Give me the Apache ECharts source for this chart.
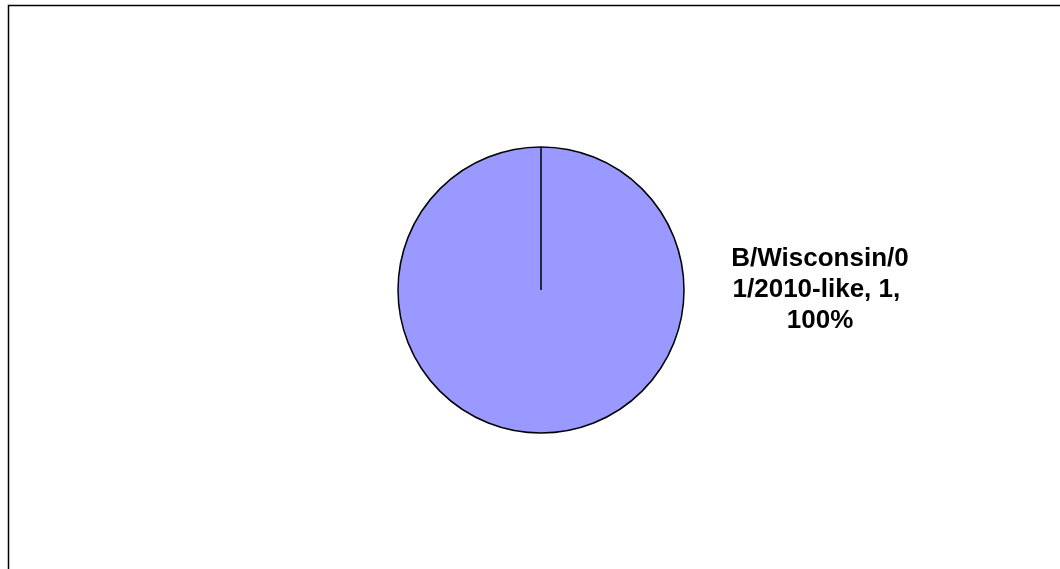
<!DOCTYPE html>
<html>
<head>
<meta charset="utf-8">
<script src="https://cdn.jsdelivr.net/npm/echarts@6/dist/echarts.min.js"></script>
<style>
html,body{margin:0;padding:0;background:#fff;}
#chart{width:1060px;height:569px;}
</style>
</head>
<body>
<div id="chart"></div>
<script>
const categories = ['B/Wisconsin/01/2010-like'];
const values = [1];

const chart = echarts.init(document.getElementById('chart'), null, {renderer: 'canvas'});

const data = categories.map((c, i) => ({ name: c, value: values[i] }));

chart.setOption({
  backgroundColor: '#ffffff',
  animation: false,
  graphic: [
    {
      id: 'frame',
      type: 'polyline',
      shape: { points: [[8.5, 569], [8.5, 5.5], [1060, 5.5]] },
      style: { stroke: '#000', lineWidth: 1.5, fill: null },
      silent: true
    }
  ],
  series: [{
    type: 'pie',
    center: [541, 290],
    radius: [0, 143],
    startAngle: 90,
    clockwise: true,
    avoidLabelOverlap: false,
    itemStyle: { color: '#9999ff', borderColor: '#000', borderWidth: 1.5 },
    emphasis: { disabled: true },
    labelLine: { show: false },
    label: {
      show: true,
      position: 'center',
      offset: [279, 0],
      formatter: '{b}, {c}, {d}%',
      width: 184,
      overflow: 'breakAll',
      align: 'center',
      fontFamily: 'Liberation Sans, Arial, sans-serif',
      fontWeight: 'bold',
      fontSize: 26,
      lineHeight: 31,
      color: '#000'
    },
    data: data
  }]
});

// Draw the slice start edge (radial line) from the pie's own computed layout
const lay = chart.getModel().getSeriesByIndex(0).getData().getItemLayout(0);
if (lay) {
  const ang = lay.startAngle;
  chart.setOption({
    graphic: [{
      id: 'edge',
      type: 'line',
      shape: {
        x1: lay.cx, y1: lay.cy,
        x2: lay.cx + lay.r * Math.cos(ang),
        y2: lay.cy + lay.r * Math.sin(ang)
      },
      style: { stroke: '#000', lineWidth: 1.5 },
      silent: true,
      z: 10
    }]
  });
}
</script>
</body>
</html>
